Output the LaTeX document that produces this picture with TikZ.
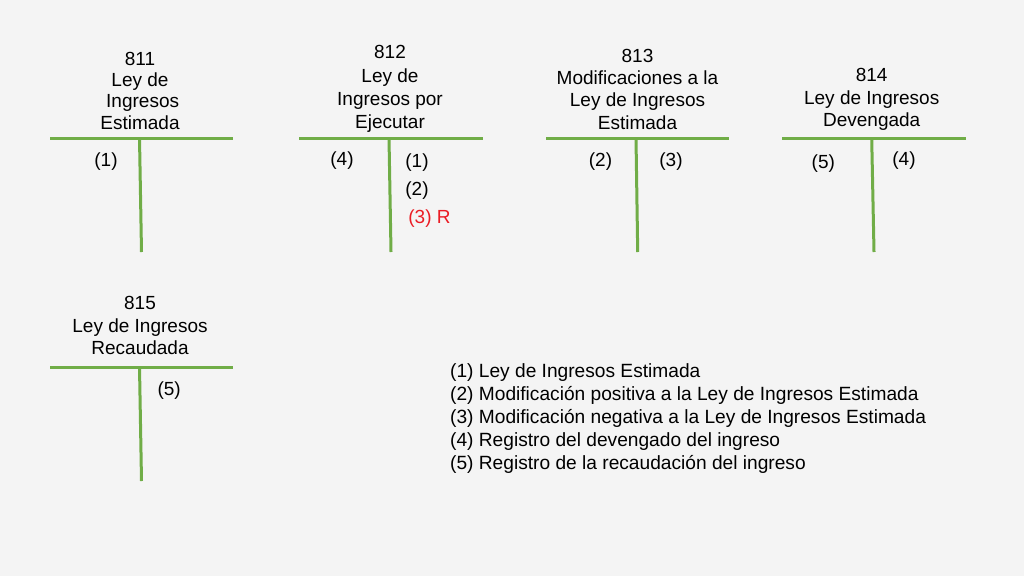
\documentclass[tikz,border=0pt]{standalone}
\usepackage{fontspec}
\setmainfont{Liberation Sans}
\definecolor{tgreen}{RGB}{112,173,71}
\definecolor{bgray}{RGB}{244,244,244}
\definecolor{tred}{RGB}{235,28,36}
\begin{document}
\begin{tikzpicture}[x=1pt,y=-1pt,
  title/.style={anchor=north, inner sep=0pt, align=center},
  entry/.style={inner sep=0pt, font=\fontsize{19}{23}\selectfont},
  tline/.style={draw=tgreen, line width=3pt}]
\fill[bgray] (0,0) rectangle (1024,576);
\useasboundingbox (0,0) rectangle (1024,576);

% ---- account 811
\node[title, font=\fontsize{19}{21.4}\selectfont] (t811) at (140,51.7) {811\\Ley de\\\hspace*{5.3pt}Ingresos\\Estimada};
\coordinate (a1l) at (50,138);   \coordinate (a1r) at (233,138);
\coordinate (a1t) at (139.5,138); \coordinate (a1b) at (141.5,252);
\draw[tline] (a1l) -- (a1r);
\draw[tline] (a1t) -- (a1b);
\node[entry] (e811a) at (106,162) {(1)};

% ---- account 812
\node[title, font=\fontsize{19}{23.3}\selectfont] (t812) at (390,45.5) {812\\Ley de\\Ingresos por\\Ejecutar};
\coordinate (a2l) at (299,138);   \coordinate (a2r) at (483,138);
\coordinate (a2t) at (389,138); \coordinate (a2b) at (391,252);
\draw[tline] (a2l) -- (a2r);
\draw[tline] (a2t) -- (a2b);
\node[entry] (e812a) at (342,161) {(4)};
\node[entry] (e812b) at (417,163) {(1)};
\node[entry] (e812c) at (417,191) {(2)};
\node[entry, text=tred] (e812d) at (429.5,219) {(3) R};

% ---- account 813
\node[title, font=\fontsize{19}{22.3}\selectfont] (t813) at (637.5,48.7) {813\\Modificaciones a la\\Ley de Ingresos\\Estimada};
\coordinate (a3l) at (546,138);   \coordinate (a3r) at (729,138);
\coordinate (a3t) at (636,138); \coordinate (a3b) at (637.7,252);
\draw[tline] (a3l) -- (a3r);
\draw[tline] (a3t) -- (a3b);
\node[entry] (e813a) at (600.5,162) {(2)};
\node[entry] (e813b) at (671,161.5) {(3)};

% ---- account 814
\node[title, font=\fontsize{19}{22.5}\selectfont] (t814) at (871.7,68.2) {814\\Ley de Ingresos\\Devengada};
\coordinate (a4l) at (782,138);   \coordinate (a4r) at (966,138);
\coordinate (a4t) at (871.7,138); \coordinate (a4b) at (874,252);
\draw[tline] (a4l) -- (a4r);
\draw[tline] (a4t) -- (a4b);
\node[entry] (e814a) at (823.3,163.5) {(5)};
\node[entry] (e814b) at (904,160.5) {(4)};

% ---- account 815
\node[title, font=\fontsize{19}{22.5}\selectfont] (t815) at (140,296.4) {815\\Ley de Ingresos\\Recaudada};
\coordinate (a5l) at (50,367);   \coordinate (a5r) at (233,367);
\coordinate (a5t) at (139.5,367); \coordinate (a5b) at (141.5,481);
\draw[tline] (a5l) -- (a5r);
\draw[tline] (a5t) -- (a5b);
\node[entry] (e815a) at (169.2,390.5) {(5)};

% ---- legend
\node[anchor=north west, inner sep=0pt, align=left, font=\fontsize{19.15}{23}\selectfont] (legend) at (450,363.1)
 {(1) Ley de Ingresos Estimada\\
  (2) Modificación positiva a la Ley de Ingresos Estimada\\
  (3) Modificación negativa a la Ley de Ingresos Estimada\\
  (4) Registro del devengado del ingreso\\
  (5) Registro de la recaudación del ingreso};
\end{tikzpicture}
\end{document}
